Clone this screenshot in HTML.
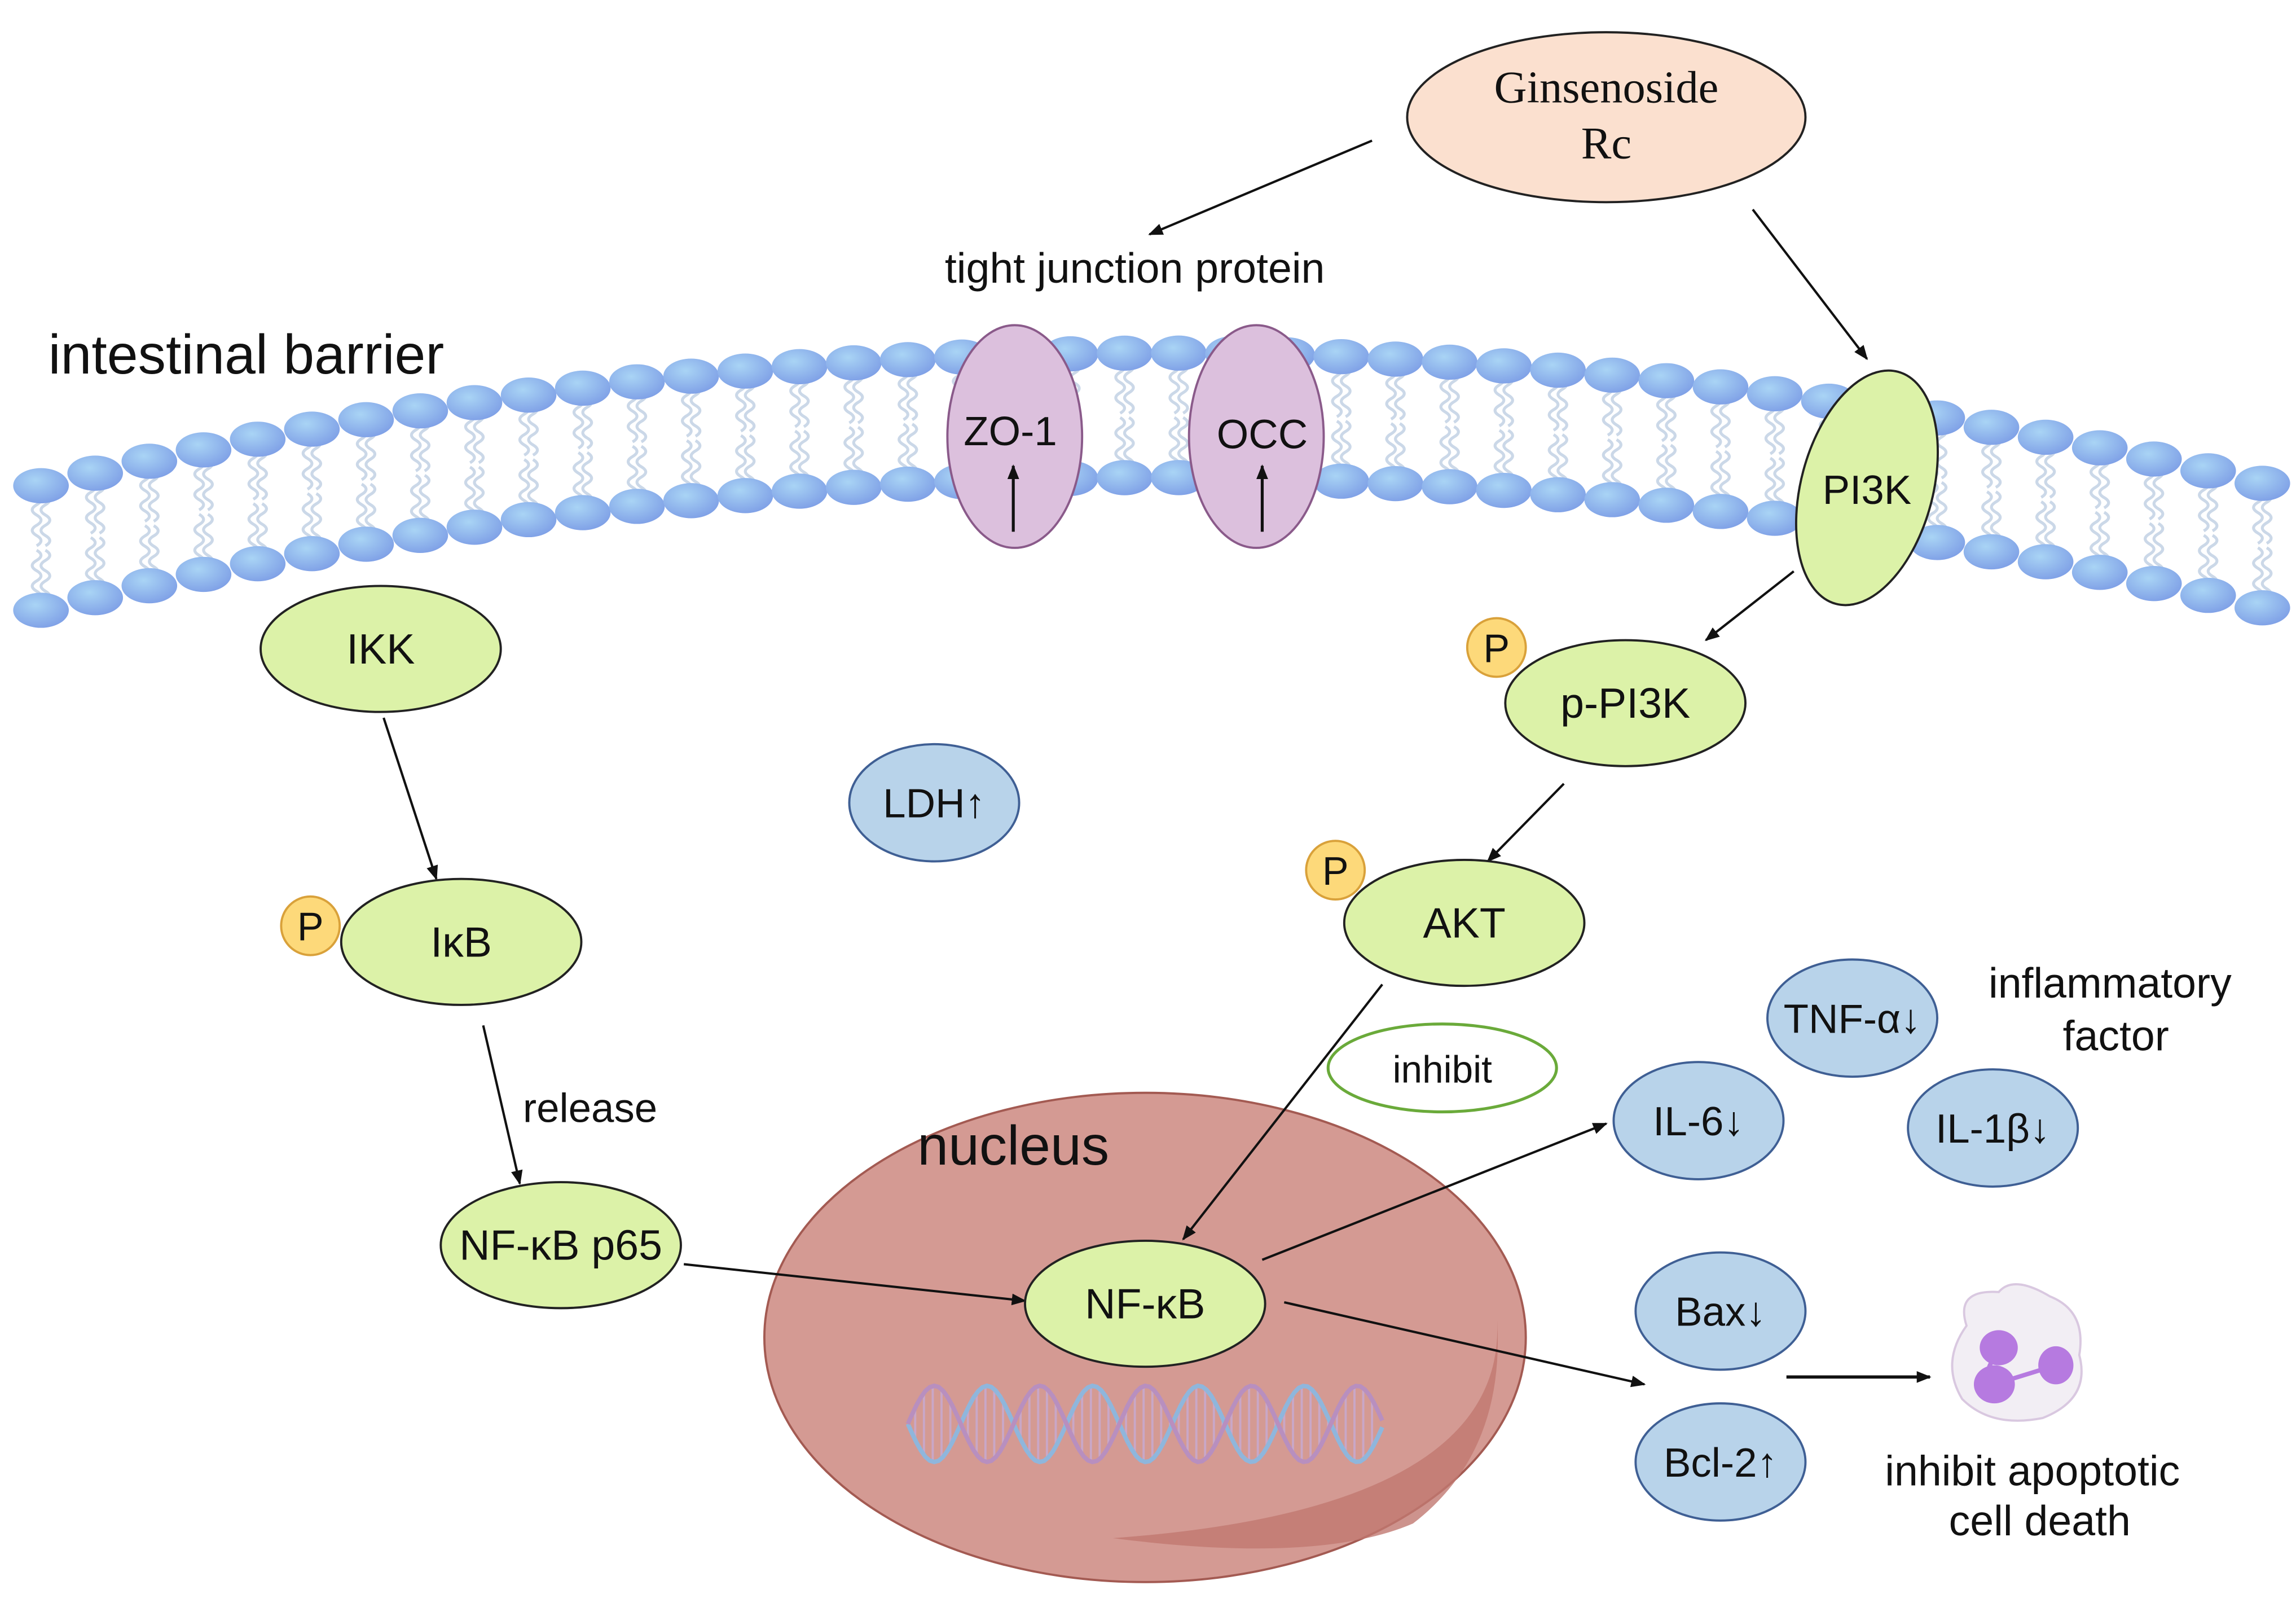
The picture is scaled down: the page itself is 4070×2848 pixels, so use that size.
<!DOCTYPE html>
<html><head><meta charset="utf-8"><style>
html,body{margin:0;padding:0;background:#fff}
svg{display:block}
text{font-family:"Liberation Sans",sans-serif;fill:#111}
</style></head><body>
<svg id="s" width="4070" height="2848" viewBox="0 0 1568 1097" preserveAspectRatio="none" xmlns="http://www.w3.org/2000/svg">
<defs>
<marker id="a" markerWidth="10" markerHeight="8" refX="9" refY="4" orient="auto" markerUnits="userSpaceOnUse"><path d="M0,0 L10,4 L0,8 z" fill="#111"/></marker>
<radialGradient id="bead" cx="0.4" cy="0.35" r="0.7"><stop offset="0" stop-color="#a9d4f5"/><stop offset="1" stop-color="#7e9fe6"/></radialGradient>
</defs>
<g id="mem"></g>
<text x="33" y="255" font-size="38">intestinal barrier</text>

<ellipse cx="1097" cy="80" rx="136" ry="58" fill="#fbe0cf" stroke="#222" stroke-width="1.5"/>
<text x="1097" y="70" font-size="31" text-anchor="middle" style="font-family:'Liberation Serif',serif">Ginsenoside</text>
<text x="1097" y="108" font-size="31" text-anchor="middle" style="font-family:'Liberation Serif',serif">Rc</text>
<text x="775" y="193" font-size="29" text-anchor="middle">tight junction protein</text>

<g fill="#dcc0dd" stroke="#8a5a8a" stroke-width="1.5">
<ellipse cx="693" cy="298" rx="46" ry="76"/>
<ellipse cx="858" cy="298" rx="46" ry="76"/>
</g>
<text x="690" y="304" font-size="28" text-anchor="middle">ZO-1</text>
<text x="862" y="306" font-size="28" text-anchor="middle">OCC</text>
<g stroke="#111" stroke-width="2" marker-end="url(#a)"><line x1="692" y1="363" x2="692" y2="318"/><line x1="862" y1="363" x2="862" y2="318"/></g>

<ellipse cx="1275" cy="333" rx="45" ry="82" transform="rotate(15 1275 333)" fill="#dcf2a8" stroke="#222" stroke-width="1.5"/>
<text x="1275" y="344" font-size="28" text-anchor="middle">PI3K</text>

<ellipse cx="782" cy="913" rx="260" ry="167" fill="#d49a93" stroke="#a35a52" stroke-width="1.5"/>
<path d="M1022,895 Q1035,1030 760,1050 Q900,1068 965,1040 Q1030,990 1022,895z" fill="#c07870" opacity="0.8"/>
<text x="692" y="795" font-size="38" text-anchor="middle">nucleus</text>
<g id="dna" fill="none" stroke-width="3"></g>

<g stroke="#111" stroke-width="1.6" fill="none" marker-end="url(#a)">
<line x1="937" y1="96" x2="785" y2="160"/>
<line x1="1197" y1="143" x2="1275" y2="245"/>
<line x1="262" y1="490" x2="298" y2="600"/>
<line x1="330" y1="700" x2="355" y2="808"/>
<line x1="467" y1="863" x2="700" y2="888"/>
<line x1="1225" y1="390" x2="1165" y2="437"/>
<line x1="1068" y1="535" x2="1016" y2="588"/>
<line x1="944" y1="672" x2="808" y2="846"/>
<line x1="862" y1="860" x2="1097" y2="767"/>
<line x1="877" y1="889" x2="1123" y2="945"/>
<line x1="1220" y1="940" x2="1318" y2="940" stroke-width="2.2"/>
</g>

<g fill="#dcf2a8" stroke="#222" stroke-width="1.5">
<ellipse cx="260" cy="443" rx="82" ry="43"/>
<ellipse cx="315" cy="643" rx="82" ry="43"/>
<ellipse cx="383" cy="850" rx="82" ry="43"/>
<ellipse cx="782" cy="890" rx="82" ry="43"/>
<ellipse cx="1110" cy="480" rx="82" ry="43"/>
<ellipse cx="1000" cy="630" rx="82" ry="43"/>
</g>
<g font-size="29" text-anchor="middle">
<text x="260" y="453">IKK</text>
<text x="315" y="653">IκB</text>
<text x="383" y="860">NF-κB p65</text>
<text x="782" y="900">NF-κB</text>
<text x="1110" y="490">p-PI3K</text>
<text x="1000" y="640">AKT</text>
</g>
<g fill="#fdd97a" stroke="#d9a13a" stroke-width="1.5">
<circle cx="212" cy="632" r="20"/><circle cx="1022" cy="442" r="20"/><circle cx="912" cy="594" r="20"/>
</g>
<g font-size="27" text-anchor="middle">
<text x="212" y="642">P</text><text x="1022" y="452">P</text><text x="912" y="604">P</text>
</g>
<text x="403" y="766" font-size="28" text-anchor="middle">release</text>

<ellipse cx="985" cy="729" rx="78" ry="30" fill="#fff" stroke="#6aaa3a" stroke-width="2"/>
<text x="985" y="739" font-size="26" text-anchor="middle">inhibit</text>

<g fill="#b8d3ea" stroke="#3f5f94" stroke-width="1.5">
<ellipse cx="638" cy="548" rx="58" ry="40"/>
<ellipse cx="1265" cy="695" rx="58" ry="40"/>
<ellipse cx="1160" cy="765" rx="58" ry="40"/>
<ellipse cx="1361" cy="770" rx="58" ry="40"/>
<ellipse cx="1175" cy="895" rx="58" ry="40"/>
<ellipse cx="1175" cy="998" rx="58" ry="40"/>
</g>
<g font-size="28" text-anchor="middle">
<text x="638" y="558">LDH↑</text>
<text x="1265" y="705">TNF-α↓</text>
<text x="1160" y="775">IL-6↓</text>
<text x="1361" y="780">IL-1β↓</text>
<text x="1175" y="905">Bax↓</text>
<text x="1175" y="1008">Bcl-2↑</text>
<text x="1441" y="681" font-size="29">inflammatory</text>
<text x="1445" y="717" font-size="29">factor</text>
<text x="1388" y="1014" font-size="29">inhibit apoptotic</text>
<text x="1393" y="1048" font-size="29">cell death</text>
</g>

<g>
<path d="M1343,905 Q1335,880 1365,882 Q1375,870 1400,885 Q1425,895 1420,925 Q1428,955 1395,968 Q1360,975 1340,955 Q1325,930 1343,905z" fill="#f2eef4" stroke="#d9c8e0" stroke-width="1.5"/>
<ellipse cx="1365" cy="920" rx="13" ry="12" fill="#b67ae0"/>
<ellipse cx="1362" cy="945" rx="14" ry="13" fill="#b67ae0"/>
<ellipse cx="1404" cy="932" rx="12" ry="13" fill="#b67ae0"/>
<path d="M1362,945 L1404,932" stroke="#b67ae0" stroke-width="3"/>
<path d="M1360,930 Q1355,938 1362,945" stroke="#b67ae0" stroke-width="3" fill="none"/>
</g>
</svg>
<script>
(function(){
var mem=document.getElementById("mem");
function yU(x){return 241+1.56e-4*(x-790)*(x-790);}
function yL(x){return 326+1.56e-4*(x-790)*(x-790);}
var tails="",beads="";
for(var x=28;x<=1545;x+=37){
  var yu=yU(x),yl=yL(x);
  for(var k=-6;k<=6;k+=12){
    var d="M"+(x+k*0.5)+","+(yu+6);
    for(var t=1;t<=5;t++){d+=" Q"+(x+k*0.5+(t%2?6:-6))+","+(yu+6+t*7-3.5)+" "+(x+k*0.5)+","+(yu+6+t*7);}
    tails+='<path d="'+d+'"/>';
    d="M"+(x+k*0.5)+","+(yl-6);
    for(var t=1;t<=5;t++){d+=" Q"+(x+k*0.5+(t%2?6:-6))+","+(yl-6-t*7+3.5)+" "+(x+k*0.5)+","+(yl-6-t*7);}
    tails+='<path d="'+d+'"/>';
  }
  beads+='<ellipse cx="'+x+'" cy="'+yu+'" rx="19" ry="12"/><ellipse cx="'+x+'" cy="'+yl+'" rx="19" ry="12"/>';
}
mem.innerHTML='<g fill="none" stroke="#cbd8e8" stroke-width="2">'+tails+'</g><g fill="url(#bead)">'+beads+'</g>';
var dna=document.getElementById("dna");
var p1="",p2="";
for(var x=620;x<=945;x+=3){var y1=972+26*Math.sin((x-620)/325*Math.PI*2*4.5),y2=972-26*Math.sin((x-620)/325*Math.PI*2*4.5);p1+=(p1?" L":"M")+x+","+y1.toFixed(1);p2+=(p2?" L":"M")+x+","+y2.toFixed(1);}
var rungs="";
for(var x=625;x<=940;x+=6){var y=26*Math.sin((x-620)/325*Math.PI*2*4.5);rungs+='<line x1="'+x+'" y1="'+(972-y)+'" x2="'+x+'" y2="'+(972+y)+'"/>';}
dna.innerHTML='<g stroke="#c9a7c7" stroke-width="1.5">'+rungs+'</g><path d="'+p1+'" stroke="#8fb6dc"/><path d="'+p2+'" stroke="#b88fbf"/>';
})();
</script>
</body></html>
